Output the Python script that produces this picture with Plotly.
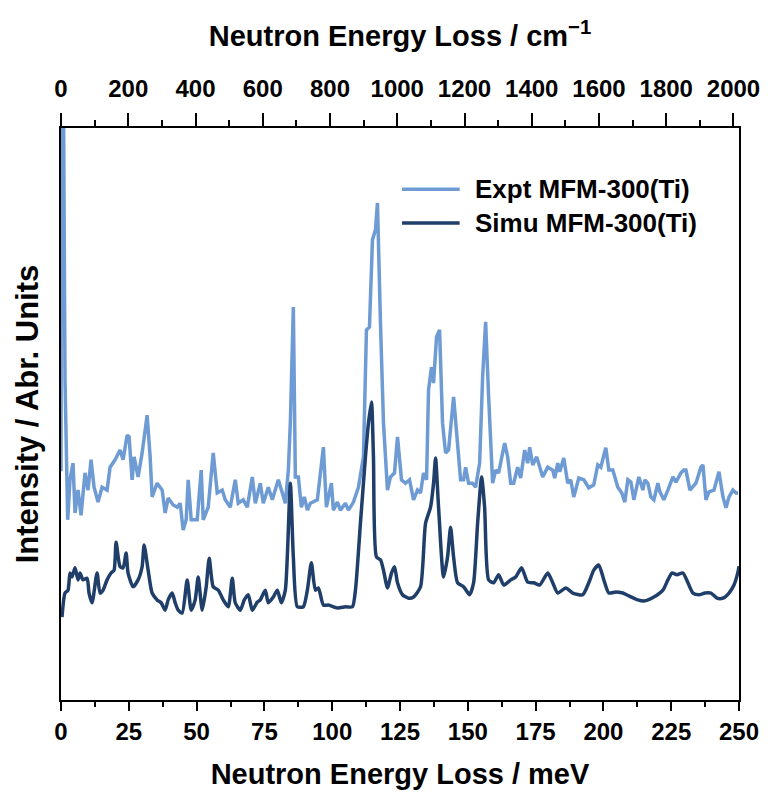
import plotly.graph_objects as go

MEV_TO_CM = 8.0655

# Experimental spectrum (energy in meV, intensity in arbitrary units)
expt_energy = [0.0, 0.3, 1.48, 2.47, 3.32, 4.43, 5.17, 6.28, 7.39, 8.86, 9.97, 11.08, 12.19, 13.66,
               15.14, 16.99, 18.09, 19.94, 21.79, 22.90, 24.37, 25.11, 26.22, 26.96, 28.43, 29.91,
               31.76, 32.87, 33.60, 35.45, 37.30, 38.40, 39.51, 41.36, 42.84, 43.94, 45.05, 46.16,
               46.90, 48.01, 50.22, 51.70, 52.44, 54.28, 56.13, 57.61, 59.45, 60.56, 62.41, 64.25,
               65.36, 67.21, 68.69, 70.53, 71.64, 73.49, 74.59, 76.44, 77.92, 80.13, 81.61, 82.72,
               83.83, 84.56, 85.67, 86.41, 87.52, 88.63, 89.73, 90.84, 91.95, 93.06, 94.53, 96.75,
               97.86, 99.70, 100.44, 101.92, 103.03, 104.87, 105.98, 107.83, 109.67, 111.52, 112.63,
               113.74, 114.84, 115.95, 116.69, 117.80, 118.91, 120.38, 121.49, 122.97, 124.08,
               125.55, 127.03, 128.51, 129.99, 131.46, 132.57, 133.68, 134.79, 135.52, 136.63,
               137.37, 138.48, 139.59, 140.69, 141.80, 142.91, 144.76, 146.23, 147.34, 148.45,
               149.19, 150.30, 151.77, 152.88, 154.36, 155.47, 156.57, 157.68, 159.16, 160.27,
               161.37, 162.85, 163.59, 164.70, 165.81, 166.91, 168.39, 169.50, 170.97, 172.08,
               172.82, 173.93, 175.41, 177.62, 179.47, 181.31, 182.05, 183.16, 183.90, 185.38,
               186.85, 187.96, 189.07, 190.92, 192.76, 194.61, 196.45, 197.93, 199.04, 200.89,
               201.99, 203.47, 205.32, 206.79, 207.90, 209.01, 210.12, 211.23, 213.07, 214.55,
               215.29, 216.40, 217.50, 218.61, 220.09, 220.83, 222.30, 223.78, 225.63, 226.74,
               228.58, 229.69, 230.43, 231.91, 234.12, 235.97, 236.71, 237.81, 238.92, 240.77,
               242.61, 244.09, 245.20, 246.31, 247.78, 248.89, 249.63]
expt_intensity = [40.0, 160.0, 55.9, 31.5, 38.5, 41.4, 32.7, 36.7, 32.3, 39.7, 36.7, 42.0, 37.2, 34.6,
                  37.2, 36.7, 40.7, 42.0, 43.7, 42.0, 46.3, 46.0, 38.5, 42.5, 39.0, 43.2,
                  49.8, 42.5, 35.5, 37.9, 36.7, 32.7, 35.3, 34.1, 33.7, 34.4, 29.7, 31.5,
                  38.5, 31.5, 31.5, 40.2, 31.5, 33.7, 43.2, 36.2, 36.7, 35.0, 33.7, 38.5,
                  34.4, 35.0, 33.7, 39.0, 34.4, 37.9, 34.4, 37.2, 35.0, 38.5, 36.2, 34.4,
                  40.2, 48.4, 68.7, 39.0, 39.0, 33.7, 35.5, 33.2, 34.4, 34.6, 35.0, 44.2,
                  33.7, 37.9, 33.2, 34.6, 33.2, 34.4, 33.2, 34.6, 37.2, 42.5, 64.7,
                  65.2, 80.4, 82.2, 86.9, 65.9, 48.4, 36.7, 39.0, 39.7, 46.0,
                  38.5, 37.9, 38.5, 35.0, 36.7, 36.2, 39.7, 38.5, 54.2, 58.2,
                  55.4, 63.5, 64.7, 48.4, 43.2, 43.7, 53.0, 43.7, 38.5, 38.5,
                  40.7, 37.9, 37.9, 37.2, 41.4, 56.5, 66.1, 53.0, 37.9, 40.2,
                  39.7, 43.2, 44.9, 42.5, 37.9, 37.9, 40.7, 38.8, 43.7, 41.4,
                  44.2, 41.1, 42.5, 39.0, 40.7, 40.2, 38.8, 41.4, 39.9, 42.3,
                  37.9, 38.5, 35.5, 38.8, 38.5, 37.1, 37.6, 41.1, 40.7, 44.1,
                  40.2, 40.2, 37.2, 36.2, 34.6, 38.5, 38.1, 35.0, 39.0, 36.7,
                  38.5, 37.9, 35.5, 35.0, 37.9, 36.4, 35.0, 36.7, 39.0, 38.1,
                  39.7, 40.2, 40.2, 36.7, 37.9, 40.7, 41.1, 35.0, 36.4, 36.7,
                  39.9, 35.5, 33.6, 35.5, 36.7, 36.2, 36.2]

# Simulated spectrum
simu_energy = [0.37, 1.48, 2.58, 3.32, 4.06, 5.17, 6.28, 7.02, 8.12, 9.60, 10.34, 11.45, 13.29, 14.40,
               15.51, 16.99, 18.46, 19.57, 20.31, 21.79, 22.90, 24.00, 24.74, 26.59, 28.43, 29.91,
               30.65, 32.13, 33.60, 35.45, 36.93, 38.40, 39.51, 40.99, 42.10, 43.21, 44.68, 46.53,
               48.01, 49.48, 50.59, 52.07, 53.55, 54.65, 56.13, 57.98, 59.82, 61.67, 63.15, 64.25,
               66.10, 67.58, 69.05, 70.53, 72.38, 73.49, 75.33, 76.44, 78.29, 79.76, 81.24, 82.72,
               84.56, 85.67, 87.15, 89.36, 90.84, 92.32, 93.80, 94.90, 96.75, 98.60, 101.92, 104.87,
               107.46, 108.57, 110.41, 112.26, 113.37, 114.48, 115.21, 116.32, 117.80, 118.91,
               120.38, 121.86, 122.97, 124.08, 125.92, 128.14, 129.99, 132.57, 134.42, 136.26,
               137.37, 138.11, 139.22, 141.06, 142.54, 143.65, 144.76, 146.23, 148.45, 150.66,
               152.14, 153.62, 155.10, 156.20, 157.68, 159.53, 161.37, 163.22, 165.81, 167.65,
               169.87, 172.08, 174.30, 176.51, 179.47, 181.31, 183.16, 186.12, 188.70, 192.39,
               194.61, 196.45, 198.30, 200.15, 201.99, 204.58, 207.16, 209.38, 212.70, 214.92,
               218.61, 221.94, 223.78, 225.26, 227.10, 229.32, 231.17, 233.01, 235.23, 237.44,
               239.66, 241.88, 244.09, 246.31, 248.15, 249.63, 250.0]
simu_intensity = [14.5, 18.7, 19.2, 22.2, 21.5, 23.1, 21.0, 22.2, 21.0, 21.3, 18.7, 17.0, 22.2, 18.7,
                  19.2, 21.0, 22.2, 22.7, 27.6, 23.3, 23.1, 25.7, 22.2, 19.8, 21.0, 23.3,
                  27.1, 22.7, 18.7, 17.5, 17.0, 15.7, 17.5, 18.7, 17.0, 15.7, 15.2, 21.0,
                  15.7, 17.5, 21.5, 15.7, 19.8, 24.8, 19.8, 19.2, 17.5, 16.3, 21.3, 17.0,
                  15.7, 17.5, 18.4, 15.7, 17.1, 17.5, 19.2, 17.0, 18.0, 19.2, 17.0, 19.2,
                  37.9, 25.0, 16.3, 16.3, 19.2, 24.0, 19.2, 19.6, 16.6, 16.6, 16.1, 16.3,
                  16.3, 19.2, 30.9, 42.5, 48.4, 52.1, 42.5, 25.0, 24.5, 22.7,
                  19.6, 22.2, 23.3, 20.5, 18.4, 17.8, 18.0, 19.8, 30.9, 33.7,
                  37.9, 42.3, 33.7, 21.5, 25.0, 30.2, 25.0, 20.5, 19.8, 18.4,
                  20.5, 30.9, 39.0, 33.7, 21.0, 20.5, 21.9, 20.1, 21.0, 21.5,
                  23.1, 20.6, 20.5, 20.1, 22.2, 20.5, 18.7, 19.6, 18.7, 18.4,
                  20.5, 22.7, 23.6, 21.0, 18.7, 18.9, 18.7, 18.2, 17.5, 17.3,
                  18.0, 19.2, 21.0, 22.2, 21.9, 22.2, 20.5, 18.7, 18.4, 18.7,
                  18.7, 17.8, 17.8, 18.7, 20.1, 22.4, 23.4]

series_names = ["Expt MFM-300(Ti)", "Simu MFM-300(Ti)"]
series_colors = ["#6E9BD3", "#1F3E69"]

bottom_ticks = list(range(0, 251, 25))
top_ticks = list(range(0, 2001, 200))

FONT = "Liberation Sans, Arial, sans-serif"

fig = go.Figure()
fig.add_trace(go.Scatter(x=expt_energy, y=expt_intensity, mode="lines", name=series_names[0],
                         line=dict(color=series_colors[0], width=3.5), showlegend=False))
fig.add_trace(go.Scatter(x=simu_energy, y=simu_intensity, mode="lines", name=series_names[1],
                         line=dict(color=series_colors[1], width=3.5, shape="spline", smoothing=0.6),
                         showlegend=False))
# invisible trace to anchor the top (cm-1) axis
fig.add_trace(go.Scatter(x=[0, 250 * MEV_TO_CM], y=[None, None], xaxis="x2", mode="lines",
                         showlegend=False, hoverinfo="skip"))

fig.update_layout(
    width=768, height=800,
    margin=dict(l=61, r=29, t=128, b=100),
    paper_bgcolor="white", plot_bgcolor="white",
    font=dict(family=FONT, color="black", weight="bold"),
    xaxis=dict(
        range=[0, 250], tickvals=bottom_ticks, ticks="outside", ticklen=9, tickwidth=2,
        tickcolor="black", showline=True, linecolor="black", linewidth=2, showgrid=False,
        zeroline=False, tickfont=dict(size=24, family=FONT, weight="bold"),
        minor=dict(dtick=12.5, ticks="outside", ticklen=5, tickwidth=2, tickcolor="black", showgrid=False),
        title=dict(text="Neutron Energy Loss / meV", font=dict(size=29, family=FONT, weight="bold"), standoff=20),
        automargin=False,
    ),
    xaxis2=dict(
        overlaying="x", side="top", range=[0, 250 * MEV_TO_CM], tickvals=top_ticks,
        ticks="outside", ticklen=13, tickwidth=2, tickcolor="black", showline=True,
        linecolor="black", linewidth=2, showgrid=False, zeroline=False,
        tickfont=dict(size=24, family=FONT, weight="bold"), ticklabelstandoff=6,
        minor=dict(dtick=100, ticks="outside", ticklen=6, tickwidth=2, tickcolor="black", showgrid=False),
        title=dict(text="Neutron Energy Loss / cm<sup>−1</sup>", font=dict(size=29, family=FONT, weight="bold"), standoff=20),
        automargin=False,
    ),
    yaxis=dict(
        range=[0, 100], showticklabels=False, ticks="", showline=True, mirror=True,
        linecolor="black", linewidth=2, showgrid=False, zeroline=False,
        title=dict(text="Intensity / Abr. Units", font=dict(size=31, family=FONT, weight="bold"), standoff=11),
        automargin=False,
    ),
)

# legend drawn as line samples + labels
legend_rows = [0.893, 0.834]
for name, color, yy in zip(series_names, series_colors, legend_rows):
    fig.add_shape(type="line", xref="paper", yref="paper", x0=0.503, x1=0.588, y0=yy, y1=yy,
                  line=dict(color=color, width=3.5))
    fig.add_annotation(xref="paper", yref="paper", x=0.608, y=yy, text=name, showarrow=False,
                       xanchor="left", yanchor="middle",
                       font=dict(size=26, family=FONT, color="black", weight="bold"))

fig.write_html("out.html")
